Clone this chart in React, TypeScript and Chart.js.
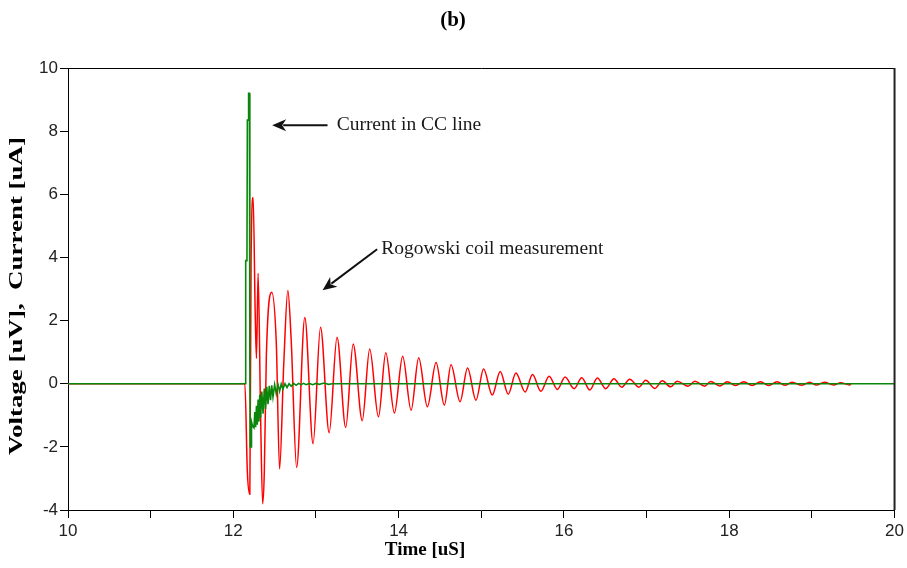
import React, { useEffect, useRef } from 'react';
import { Chart, registerables } from 'chart.js';

Chart.register(...registerables);

// ---------- data ----------
const TITLE = '(b)';
const X_TITLE = 'Time [uS]';
const Y_TITLE = 'Voltage [uV],  Current [uA]';
const CURRENT_LABEL = 'Current in CC line';
const ROGOWSKI_LABEL = 'Rogowski coil measurement';

const X_TICK_LABELS = [10, 12, 14, 16, 18, 20];
const Y_TICK_LABELS = [-4, -2, 0, 2, 4, 6, 8, 10];

// Current in CC line (green)
const CURRENT_TIME = [
  10.0, 12.145, 12.15, 12.165, 12.17, 12.18, 12.185, 12.195, 12.2, 12.205, 12.215, 12.22, 12.235,
  12.25, 12.26, 12.27, 12.28, 12.29, 12.3, 12.31, 12.32, 12.33, 12.345, 12.36, 12.375, 12.39,
  12.405, 12.42, 12.435, 12.45, 12.465, 12.48, 12.5, 12.52, 12.54, 12.56, 12.58, 12.6, 12.625,
  12.65, 12.675, 12.7, 12.73, 12.76, 12.79, 12.82, 12.85, 12.88, 12.92, 12.96, 13.0, 13.04,
  13.1, 13.15, 13.2, 20.0,
];
const CURRENT = [
  0, 0, 3.9, 3.9, 8.35, 8.35, 9.2, 9.2, 0.7, -2.0, -2.0, -1.2, -1.35,
  -1.4, -0.9, -1.38, -0.7, -1.3, -0.5, -1.2, -0.35, -1.08, -0.25, -0.95, -0.15, -0.8,
  -0.1, -0.65, -0.07, -0.52, -0.05, -0.42, -0.03, -0.32, -0.02, -0.24, -0.01, -0.17, 0,
  -0.12, 0, -0.08, 0.01, -0.05, 0.01, -0.03, 0.01, -0.03, 0.01, -0.03, 0.01, -0.02,
  0.02, -0.02, 0, 0,
];

// Rogowski coil measurement (red)
const ROGOWSKI_TIME = [
  10.0, 12.14, 12.17, 12.2, 12.215, 12.24, 12.265, 12.28, 12.3, 12.33, 12.355, 12.375, 12.4,
  12.465, 12.52, 12.56, 12.61, 12.66, 12.7, 12.766, 12.865, 12.965, 13.055, 13.16, 13.255,
  13.36, 13.45, 13.56, 13.65, 13.756, 13.845, 13.949, 14.049, 14.151, 14.243, 14.348, 14.453,
  14.553, 14.634, 14.743, 14.834, 14.936, 15.028, 15.133, 15.229, 15.326, 15.419, 15.531,
  15.62, 15.721, 15.821, 15.921, 16.014, 16.123, 16.216, 16.313, 16.405, 16.506, 16.606,
  16.699, 16.796, 16.908, 16.989, 17.101, 17.19, 17.291, 17.371, 17.5, 17.585, 17.702,
  17.774, 17.886, 17.975, 18.076, 18.176, 18.277, 18.378, 18.478, 18.578, 18.68, 18.759,
  18.88, 18.973, 19.054, 19.151, 19.263, 19.348, 19.457, 19.47,
];
const ROGOWSKI = [
  0, 0, -2.8, -3.5, 3.9, 5.9, 2.2, 0.8, 3.5, -1.0, -3.8, -2.8, 0.9,
  2.9, 1.3, -2.7, 0.6, 2.95, 1.4, -2.65, 2.1, -1.9, 1.79, -1.55, 1.47,
  -1.39, 1.26, -1.17, 1.1, -1.05, 0.98, -0.93, 0.87, -0.84, 0.82, -0.73, 0.67,
  -0.68, 0.6, -0.57, 0.5, -0.52, 0.47, -0.36, 0.39, -0.33, 0.34, -0.26,
  0.29, -0.24, 0.24, -0.18, 0.21, -0.16, 0.19, -0.2, 0.18, -0.16, 0.16,
  -0.11, 0.14, -0.11, 0.11, -0.15, 0.09, -0.1, 0.08, -0.08, 0.08, -0.08,
  0.07, -0.07, 0.06, -0.06, 0.06, -0.06, 0.06, -0.06, 0.06, -0.05, 0.05,
  -0.05, 0.05, -0.04, 0.05, -0.04, 0.03, -0.04, 0,
];

// annotation anchors in data units
const CURRENT_ARROW = { fromX: 13.14, fromY: 8.19, toX: 12.47, toY: 8.19, textX: 13.25, textY: 8.05 };
const ROGOWSKI_ARROW = { fromX: 13.74, fromY: 4.26, toX: 13.08, toY: 2.96, textX: 13.79, textY: 4.1 };

const SERIF = '"Liberation Serif", "Times New Roman", serif';
const SANS = '"Liberation Sans", Arial, sans-serif';

function drawArrow(ctx: CanvasRenderingContext2D, x1: number, y1: number, x2: number, y2: number) {
  const ang = Math.atan2(y2 - y1, x2 - x1);
  const len = 14;
  const half = 6;
  const bx = x2 - len * Math.cos(ang);
  const by = y2 - len * Math.sin(ang);
  ctx.strokeStyle = '#111';
  ctx.fillStyle = '#111';
  ctx.lineWidth = 2;
  ctx.beginPath();
  ctx.moveTo(x1, y1);
  ctx.lineTo(bx + 3 * Math.cos(ang), by + 3 * Math.sin(ang));
  ctx.stroke();
  ctx.beginPath();
  ctx.moveTo(x2, y2);
  ctx.lineTo(bx + half * Math.sin(ang), by - half * Math.cos(ang));
  ctx.lineTo(bx + 4 * Math.cos(ang), by + 4 * Math.sin(ang));
  ctx.lineTo(bx - half * Math.sin(ang), by + half * Math.cos(ang));
  ctx.closePath();
  ctx.fill();
}

const decorPlugin = {
  id: 'decor',
  afterDraw(chart: any) {
    const { ctx, chartArea: a, scales } = chart;
    const xs = scales.x;
    const ys = scales.y;
    ctx.save();
    // frame
    ctx.strokeStyle = '#000';
    ctx.lineWidth = 1;
    ctx.beginPath();
    ctx.moveTo(a.left, a.top + 0.5);
    ctx.lineTo(a.right, a.top + 0.5);
    ctx.stroke();
    ctx.strokeStyle = '#222';
    ctx.lineWidth = 2;
    ctx.beginPath();
    ctx.moveTo(a.right, a.top);
    ctx.lineTo(a.right, a.bottom);
    ctx.stroke();

    // title
    ctx.fillStyle = '#000';
    ctx.font = `bold 21px ${SERIF}`;
    ctx.textAlign = 'center';
    ctx.textBaseline = 'middle';
    ctx.fillText(TITLE, 453, 21);

    // x title
    ctx.font = `bold 19px ${SERIF}`;
    ctx.fillText(X_TITLE, 425, 550);

    // y title (rotated)
    ctx.save();
    ctx.translate(17, 296);
    ctx.rotate(-Math.PI / 2);
    ctx.font = `bold 18px ${SERIF}`;
    const w = ctx.measureText(Y_TITLE).width;
    ctx.scale(318 / w, 1);
    ctx.fillText(Y_TITLE, 0, 0);
    ctx.restore();

    // annotations
    ctx.font = `19.5px ${SERIF}`;
    ctx.textAlign = 'left';
    ctx.textBaseline = 'alphabetic';
    drawArrow(ctx, xs.getPixelForValue(CURRENT_ARROW.fromX), ys.getPixelForValue(CURRENT_ARROW.fromY),
      xs.getPixelForValue(CURRENT_ARROW.toX), ys.getPixelForValue(CURRENT_ARROW.toY));
    ctx.fillStyle = '#1a1a1a';
    ctx.fillText(CURRENT_LABEL, xs.getPixelForValue(CURRENT_ARROW.textX), ys.getPixelForValue(CURRENT_ARROW.textY));
    drawArrow(ctx, xs.getPixelForValue(ROGOWSKI_ARROW.fromX), ys.getPixelForValue(ROGOWSKI_ARROW.fromY),
      xs.getPixelForValue(ROGOWSKI_ARROW.toX), ys.getPixelForValue(ROGOWSKI_ARROW.toY));
    ctx.fillStyle = '#1a1a1a';
    ctx.fillText(ROGOWSKI_LABEL, xs.getPixelForValue(ROGOWSKI_ARROW.textX), ys.getPixelForValue(ROGOWSKI_ARROW.textY));
    ctx.restore();
  },
};

export default function App() {
  const ref = useRef<HTMLCanvasElement | null>(null);
  useEffect(() => {
    if (!ref.current) return;
    const chart = new Chart(ref.current, {
      type: 'line',
      data: {
        datasets: [
          {
            label: CURRENT_LABEL,
            data: CURRENT_TIME.map((t, i) => ({ x: t, y: CURRENT[i] })),
            borderColor: '#0a870a',
            borderWidth: 1.6,
            pointRadius: 0,
            tension: 0,
            order: 0,
          },
          {
            label: ROGOWSKI_LABEL,
            data: ROGOWSKI_TIME.map((t, i) => ({ x: t, y: ROGOWSKI[i] })),
            borderColor: '#ff0000',
            borderWidth: 1.5,
            pointRadius: 0,
            cubicInterpolationMode: 'monotone',
            order: 1,
          },
        ],
      },
      options: {
        responsive: false,
        animation: false,
        devicePixelRatio: 1,
        layout: { padding: { left: 0, top: 68, right: 11, bottom: 0 } },
        plugins: { legend: { display: false }, tooltip: { enabled: false }, title: { display: false } },
        scales: {
          x: {
            type: 'linear',
            min: 10,
            max: 20,
            afterFit: (s: any) => { s.height = 58; },
            ticks: {
              stepSize: 1,
              autoSkip: false,
              maxRotation: 0,
              padding: 3,
              color: '#222',
              font: { family: SANS, size: 17 },
              callback: (v: any) => (X_TICK_LABELS.includes(Number(v)) ? String(v) : ''),
            },
            grid: { drawOnChartArea: false, drawTicks: true, tickLength: 8, color: '#000' },
            border: { display: true, color: '#000', width: 1 },
          },
          y: {
            type: 'linear',
            min: -4,
            max: 10,
            afterFit: (s: any) => { s.width = 68; },
            ticks: {
              stepSize: 2,
              padding: 2,
              color: '#222',
              font: { family: SANS, size: 17 },
              callback: (v: any) => (Y_TICK_LABELS.includes(Number(v)) ? String(v) : ''),
            },
            grid: { drawOnChartArea: false, drawTicks: true, tickLength: 8, color: '#000' },
            border: { display: true, color: '#000', width: 1 },
          },
        },
      },
      plugins: [decorPlugin],
    } as any);
    return () => chart.destroy();
  }, []);
  return (
    <div style={{ position: 'absolute', left: 0, top: 0, width: 907, height: 568, background: '#fff' }}>
      <canvas ref={ref} width={907} height={568} style={{ display: 'block' }} />
    </div>
  );
}
